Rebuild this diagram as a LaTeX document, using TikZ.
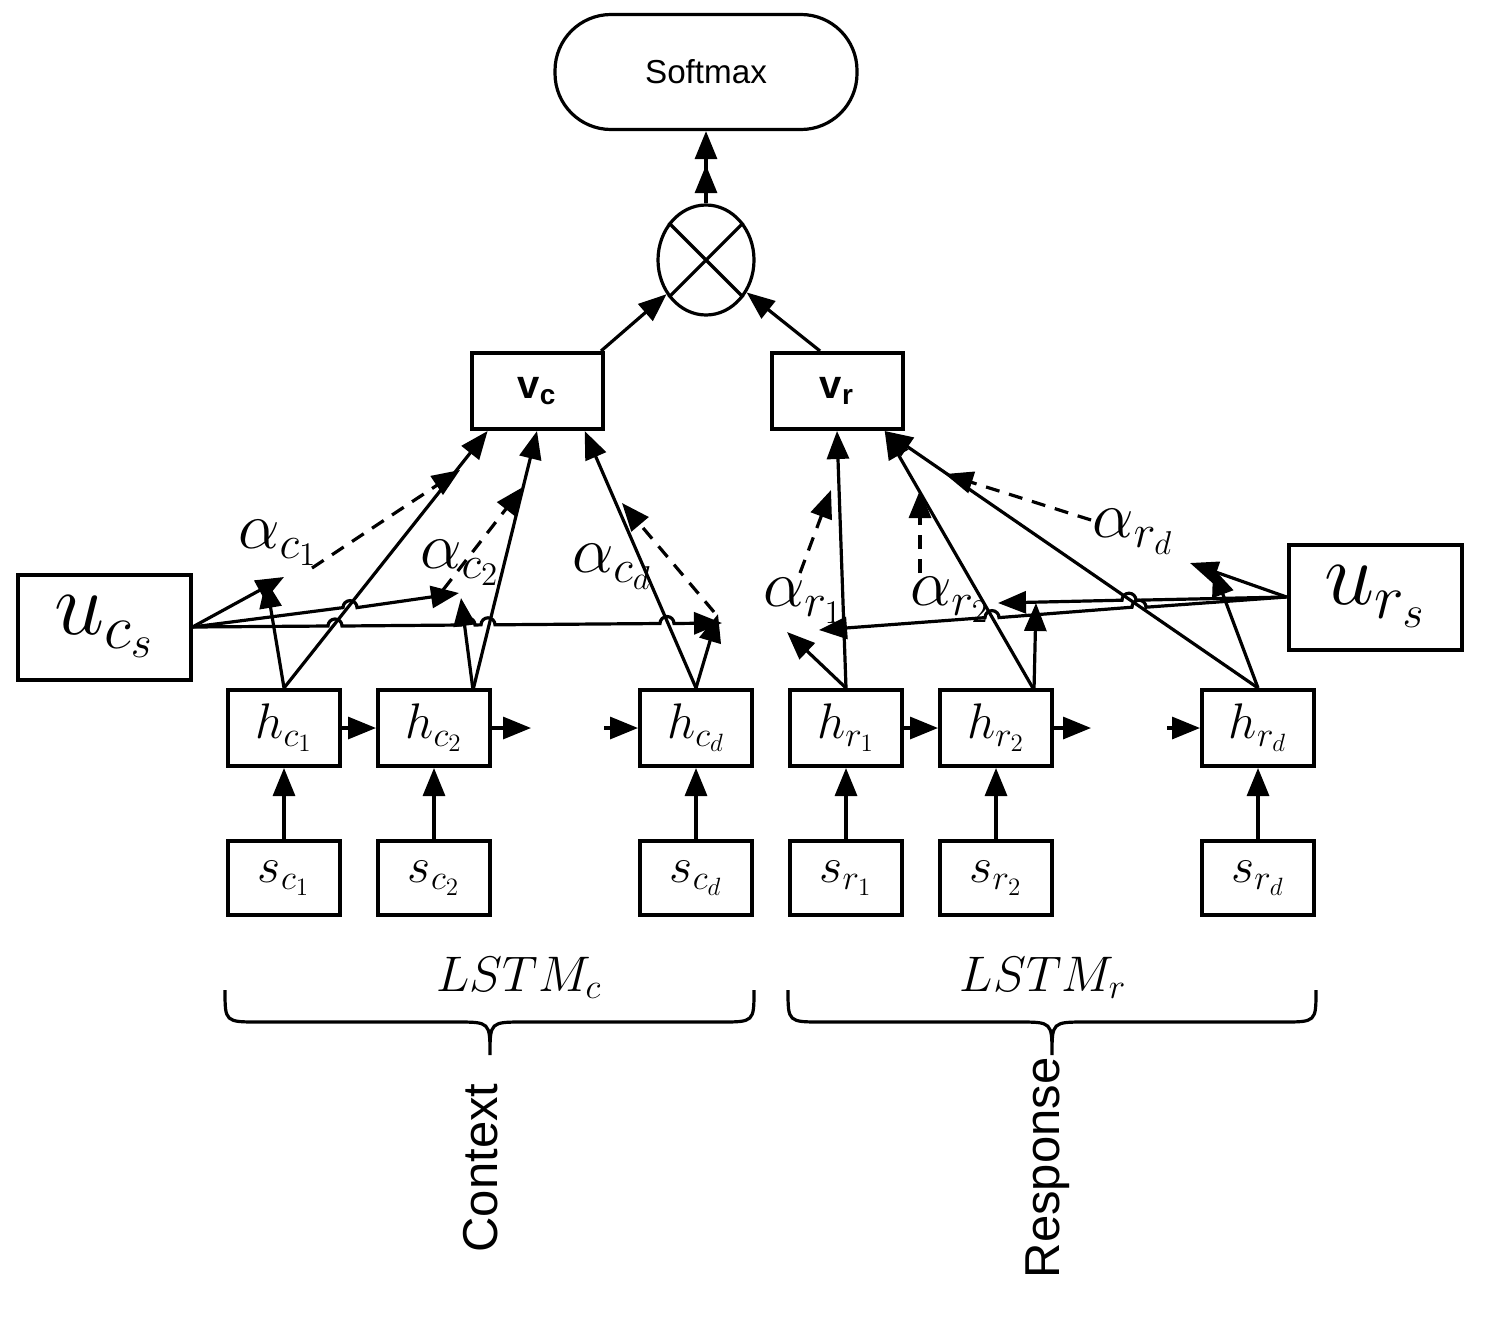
\RequirePackage{fix-cm}
\documentclass[tikz,border=0pt]{standalone}
\usepackage{fontspec}
\setsansfont{Liberation Sans}
\usetikzlibrary{arrows.meta,shapes.geometric}

\newlength{\du}
\setlength{\du}{0.5pt}

\tikzset{
  blk/.style={draw, line width=2pt, inner sep=0pt, fill=white},
  cellbox/.style={blk, minimum width=112\du, minimum height=76\du, font=\fontsize{25}{27}\selectfont},
  inbox/.style={blk, minimum width=112\du, minimum height=74\du, font=\fontsize{25}{27}\selectfont},
  vecbox/.style={blk, minimum width=131\du, minimum height=76\du, font=\sffamily\bfseries\fontsize{20}{22}\selectfont},
  ubox/.style={blk, minimum width=173\du, minimum height=105\du, font=\fontsize{45}{47}\selectfont},
  alab/.style={inner sep=0pt, font=\fontsize{33}{35}\selectfont},
  arr/.style={line width=1.6pt, -{Triangle[length=14pt,width=11pt]}},
  dsh/.style={arr, dash pattern=on 7pt off 5pt},
  brc/.style={line width=1.6pt},
}

\begin{document}
\begin{tikzpicture}
\pgftransformxscale{1.000000}
\pgftransformyscale{-1.000000}
\definecolor{dialinecolor}{rgb}{0.000000, 0.000000, 0.000000}
\pgfsetstrokecolor{dialinecolor}
\useasboundingbox (0\du,0\du) rectangle (1491\du,1317\du);
% top
\node[draw, line width=1.6pt, rounded corners=28pt, minimum width=302\du, minimum height=115\du, font=\sffamily\fontsize{16.6}{18}\selectfont] (softmax) at (706\du,72\du){Softmax};
\node[draw, ellipse, line width=1.6pt, inner sep=0pt, minimum width=96\du, minimum height=110\du] (otimes) at (706\du,260\du){};
\draw[line width=1.6pt] (otimes.45) -- (otimes.225) (otimes.135) -- (otimes.315);
\draw[line width=1.6pt, -{Triangle[length=14pt,width=11pt,sep=3pt]Triangle[length=14pt,width=11pt]}] (otimes) -- (softmax);
\node[vecbox] (vc) at (537\du,391\du){v\textsubscript{c}};
\node[vecbox] (vr) at (837\du,391\du){v\textsubscript{r}};
\draw[arr] (vc.32) -- (otimes);
\draw[arr] (vr.113) -- (otimes);
% sentence vectors
\node[ubox] (ucs) at (104\du,627\du){$u_{c_s}$};
\node[ubox] (urs) at (1375\du,597\du){$u_{r_s}$};
% hidden states
\node[cellbox] (hc1) at (284\du,728\du){$h_{c_1}$};
\node[cellbox] (hc2) at (434\du,728\du){$h_{c_2}$};
\node[cellbox] (hcd) at (696\du,728\du){$h_{c_d}$};
\node[cellbox] (hr1) at (846\du,728\du){$h_{r_1}$};
\node[cellbox] (hr2) at (996\du,728\du){$h_{r_2}$};
\node[cellbox] (hrd) at (1258\du,728\du){$h_{r_d}$};
% inputs
\node[inbox] (sc1) at (284\du,878\du){$s_{c_1}$};
\node[inbox] (sc2) at (434\du,878\du){$s_{c_2}$};
\node[inbox] (scd) at (696\du,878\du){$s_{c_d}$};
\node[inbox] (sr1) at (846\du,878\du){$s_{r_1}$};
\node[inbox] (sr2) at (996\du,878\du){$s_{r_2}$};
\node[inbox] (srd) at (1258\du,878\du){$s_{r_d}$};
\draw[arr] (sc1) -- (hc1);
\draw[arr] (sc2) -- (hc2);
\draw[arr] (scd) -- (hcd);
\draw[arr] (sr1) -- (hr1);
\draw[arr] (sr2) -- (hr2);
\draw[arr] (srd) -- (hrd);
% recurrence
\coordinate (cgo) at (531\du,728\du);
\coordinate (ccome) at (604\du,728\du);
\coordinate (rgo) at (1091\du,728\du);
\coordinate (rcome) at (1167\du,728\du);
\draw[arr] (hc1) -- (hc2);
\draw[arr] (hc2) -- (cgo);
\draw[arr] (ccome) -- (hcd);
\draw[arr] (hr1) -- (hr2);
\draw[arr] (hr2) -- (rgo);
\draw[arr] (rcome) -- (hrd);
% attention weights
\node[alab] (ac1) at (278\du,543\du){$\alpha_{c_1}$};
\node[alab] (ac2) at (460\du,563\du){$\alpha_{c_2}$};
\node[alab] (acd) at (612\du,567\du){$\alpha_{c_d}$};
\node[alab] (ar1) at (803\du,601\du){$\alpha_{r_1}$};
\node[alab] (ar2) at (950\du,600\du){$\alpha_{r_2}$};
\node[alab] (ard) at (1133\du,532\du){$\alpha_{r_d}$};
% context side
\coordinate (hc2t) at (473\du,690\du);
\coordinate (pa) at (284\du,577\du);
\coordinate (pb) at (459\du,593\du);
\coordinate (pc) at (722\du,623\du);
\coordinate (pd) at (266\du,580\du);
\coordinate (pg) at (461\du,598\du);
\coordinate (pk) at (718\du,614\du);
\coordinate (f1) at (312\du,568\du);
\coordinate (f2) at (460\du,470\du);
\coordinate (i1) at (443\du,590\du);
\coordinate (i2) at (523\du,487\du);
\coordinate (l1) at (714\du,612\du);
\coordinate (l2) at (622\du,503\du);
\draw[arr] (hc1.north) -- (vc.219);
\draw[arr] (hc2t) -- (vc.south);
\draw[arr] (hcd.north) -- (vc.320);
\draw[arr] (hc1.north) -- (pd);
\draw[arr] (hc2t) -- (pg);
\draw[arr] (hcd.north) -- (pk);
\draw[arr] (ucs.east) -- (pa);
\draw[arr] (ucs.east) -- (343\du,607.6\du) arc[start angle=180, end angle=360, radius=7\du] -- (pb);
\draw[arr] (ucs.east) -- (328\du,626\du) arc[start angle=180, end angle=360, radius=7\du] -- (461\du,625\du) arc[start angle=180, end angle=360, radius=7\du] -- (481\du,624.8\du) arc[start angle=180, end angle=360, radius=7\du] -- (660\du,623.5\du) arc[start angle=180, end angle=360, radius=7\du] -- (pc);
\draw[dsh] (f1) -- (f2);
\draw[dsh] (i1) -- (i2);
\draw[dsh] (l1) -- (l2);
% response side
\coordinate (hr2t) at (1034\du,690\du);
\coordinate (pm) at (1190\du,563\du);
\coordinate (pn) at (998\du,603\du);
\coordinate (po) at (819\du,630\du);
\coordinate (pq) at (787\du,632\du);
\coordinate (pt) at (1036\du,603\du);
\coordinate (pw) at (1213\du,568\du);
\coordinate (r1) at (800\du,573\du);
\coordinate (r2) at (831\du,490\du);
\coordinate (u1) at (920\du,573\du);
\coordinate (u2) at (920\du,490\du);
\coordinate (x1) at (1091\du,520\du);
\coordinate (x2) at (945\du,474\du);
\draw[arr] (hr1.north) -- (vr.south);
\draw[arr] (hr2t) -- (vr.320);
\draw[arr] (hrd.north) -- (vr.320);
\draw[arr] (hr1.north) -- (pq);
\draw[arr] (hr2t) -- (pt);
\draw[arr] (hrd.north) -- (pw);
\draw[arr] (urs.west) -- (pm);
\draw[arr] (urs.west) -- (1136\du,600.2\du) arc[start angle=0, end angle=-180, radius=7\du] -- (pn);
\draw[arr] (urs.west) -- (1146\du,607.2\du) arc[start angle=0, end angle=-180, radius=7\du] -- (999\du,617.6\du) arc[start angle=0, end angle=-180, radius=7\du] -- (po);
\draw[dsh] (r1) -- (r2);
\draw[dsh] (u1) -- (u2);
\draw[dsh] (x1) -- (x2);
% braces
\draw[brc] (225\du,990\du) .. controls (225\du,1022\du) .. (259\du,1022\du) -- (456\du,1022\du) .. controls (490\du,1022\du) .. (490\du,1055\du) .. controls (490\du,1022\du) .. (524\du,1022\du) -- (720\du,1022\du) .. controls (754\du,1022\du) .. (754\du,990\du);
\draw[brc] (788\du,990\du) .. controls (788\du,1022\du) .. (822\du,1022\du) -- (1018\du,1022\du) .. controls (1052\du,1022\du) .. (1052\du,1055\du) .. controls (1052\du,1022\du) .. (1086\du,1022\du) -- (1282\du,1022\du) .. controls (1316\du,1022\du) .. (1316\du,990\du);
\node[font=\fontsize{25}{27}\selectfont] (lstmc) at (519\du,978\du){$LSTM_c$};
\node[font=\fontsize{25}{27}\selectfont] (lstmr) at (1043\du,978\du){$LSTM_r$};
\node[rotate=90, font=\sffamily\fontsize{24.5}{26}\selectfont] (ctx) at (481\du,1168\du){Context};
\node[rotate=90, font=\sffamily\fontsize{24.5}{26}\selectfont] (rsp) at (1048\du,1168\du){Response};
\end{tikzpicture}
\end{document}
